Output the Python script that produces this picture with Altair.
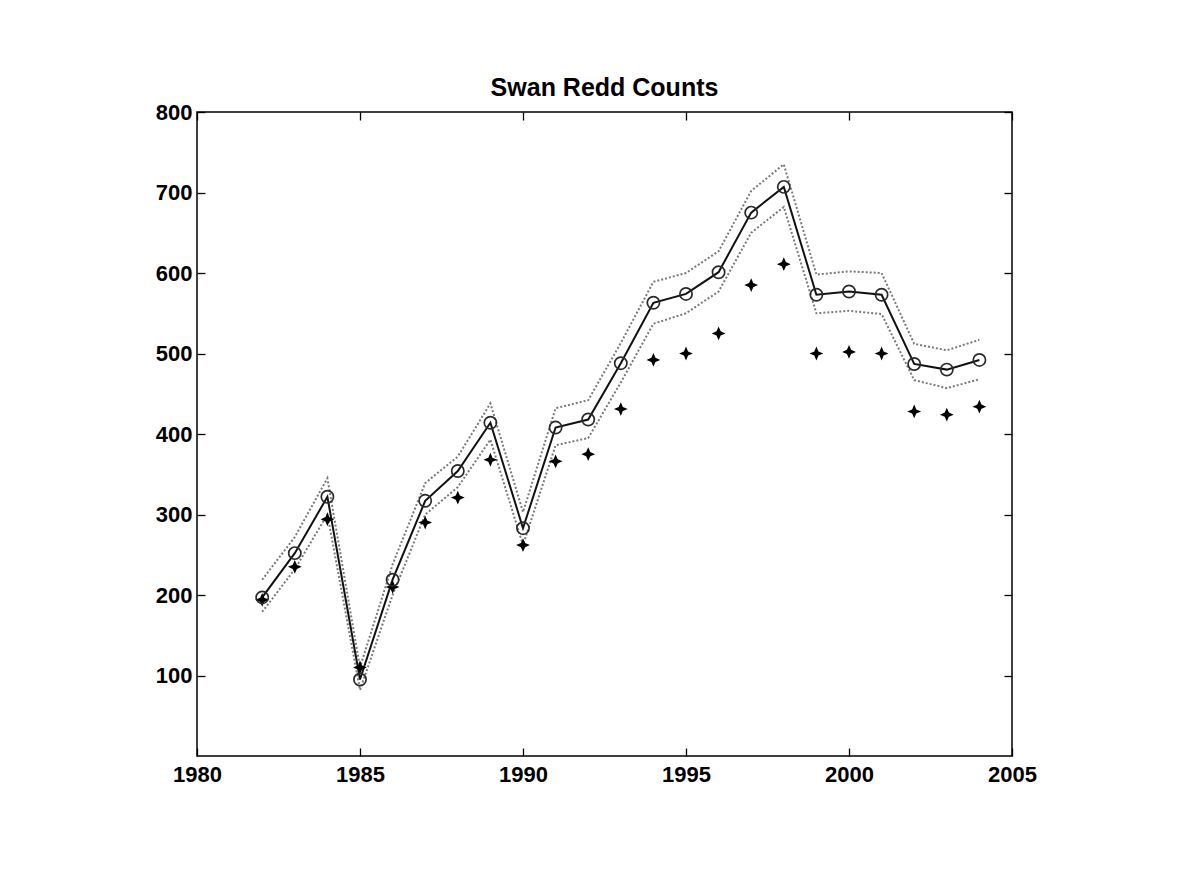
import altair as alt
import pandas as pd

years = list(range(1982, 2005))
fitted = [197, 252, 322, 95, 219, 317, 354, 414, 283, 408, 418, 488, 563, 574,
          601, 675, 707, 573, 577, 573, 487, 480, 492]
observed = [194, 235, 294, 110, 210, 290, 321, 368, 262, 366, 375, 431, 492, 500,
            525, 585, 611, 500, 502, 500, 428, 424, 434]
upper = [219, 272, 345, 110, 238, 339, 372, 438, 303, 432, 442, 513, 589, 600,
         627, 702, 735, 598, 602, 600, 512, 504, 517]
lower = [179, 232, 300, 82, 200, 300, 334, 393, 262, 386, 395, 464, 537, 550,
         577, 650, 682, 550, 553, 549, 467, 457, 468]

xticks = [1980, 1985, 1990, 1995, 2000, 2005]
yticks = [100, 200, 300, 400, 500, 600, 700, 800]

df = pd.DataFrame({"year": years, "fitted": fitted, "observed": observed,
                   "upper": upper, "lower": lower})

FONT = "Liberation Sans"
xs = alt.Scale(domain=[1980, 2005], nice=False, zero=False)
ys = alt.Scale(domain=[0, 800], nice=False, zero=False)

common = dict(domain=False, tickSize=8, offset=-8, tickColor="black", tickWidth=1.3,
              labelFont=FONT, labelFontSize=22, labelFontWeight="bold",
              labelColor="black", grid=False, title=None, labelFlush=False,
              labelOverlap=False)

x_bottom = alt.Axis(orient="bottom", values=xticks, format="d", labelPadding=8, **common)
y_left = alt.Axis(orient="left", values=yticks, format="d", labelPadding=5, **common)
x_top = alt.Axis(orient="top", values=xticks, labels=False, **common)
y_right = alt.Axis(orient="right", values=yticks, labels=False, **common)

base = alt.Chart(df)

band_style = dict(color="#7a7a7a", strokeWidth=2, strokeDash=[2, 2])
band_up = base.mark_line(**band_style).encode(
    x=alt.X("year:Q", scale=xs, axis=x_top),
    y=alt.Y("upper:Q", scale=ys, axis=y_right),
)
band_lo = base.mark_line(**band_style).encode(
    x=alt.X("year:Q", scale=xs, axis=None),
    y=alt.Y("lower:Q", scale=ys, axis=None),
)
fit_line = base.mark_line(color="#111111", strokeWidth=2).encode(
    x=alt.X("year:Q", scale=xs, axis=x_bottom),
    y=alt.Y("fitted:Q", scale=ys, axis=y_left),
)
plus_path = "M0,-1L0.3,-0.3L1,0L0.3,0.3L0,1L-0.3,0.3L-1,0L-0.3,-0.3Z"
obs_pts = base.mark_point(shape=plus_path, filled=True, size=190, color="black",
                          opacity=1).encode(
    x=alt.X("year:Q", scale=xs, axis=None),
    y=alt.Y("observed:Q", scale=ys, axis=None),
)
fit_pts = base.mark_point(shape="circle", filled=False, size=150, strokeWidth=1.7,
                          color="#2a2a2a", opacity=1).encode(
    x=alt.X("year:Q", scale=xs, axis=None),
    y=alt.Y("fitted:Q", scale=ys, axis=None),
)

chart = alt.layer(fit_line, band_up, band_lo, obs_pts, fit_pts).resolve_axis(
    x="independent", y="independent"
).properties(
    width=815,
    height=644,
    title=alt.TitleParams("Swan Redd Counts", font=FONT, fontSize=25,
                          fontWeight="bold", color="black", offset=0),
    autosize=alt.AutoSizeParams(type="none"),
    padding={"left": 189, "top": 104, "right": 157, "bottom": 112},
).configure(
    background="white",
    view=alt.ViewConfig(stroke="black", strokeWidth=1.5),
)

chart.save("out.html", embed_options={"renderer": "svg", "actions": False})
